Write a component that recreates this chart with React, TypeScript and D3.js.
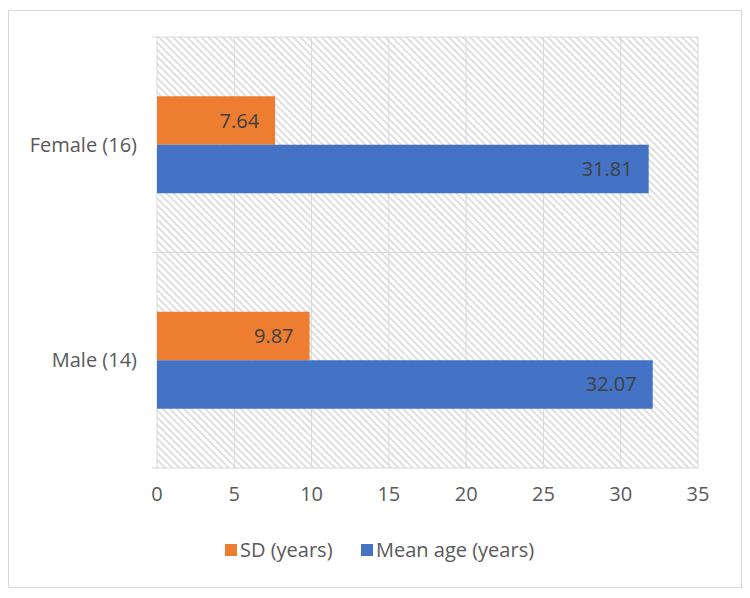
import { scaleLinear, scaleBand } from "d3"

const categories = ["Female (16)", "Male (14)"]
const seriesNames = ["SD (years)", "Mean age (years)"]
const sdValues = [7.64, 9.87]
const meanValues = [31.81, 32.07]
const xTicks = [0, 5, 10, 15, 20, 25, 30, 35]

const colors = ["#ED7D31", "#4472C4"]
const font = "'Open Sans', 'Segoe UI', sans-serif"

export default function App() {
  const width = 750
  const height = 598
  const left = 157
  const right = 698
  const top = 37
  const bottom = 468

  const x = scaleLinear().domain([0, 35]).range([left, right])
  const y = scaleBand<string>()
    .domain(categories)
    .range([top, bottom])
    .paddingInner(0.55)
    .paddingOuter(0.275)
  const sub = scaleBand<number>().domain([0, 1]).range([0, y.bandwidth()])

  const series = [sdValues, meanValues]
  const step = y.step()
  const separators = categories.map((_, i) => top + i * step).concat([bottom])

  // legend item positions (square x)
  const legendX = [225, 361]

  return (
    <svg
      width={width}
      height={height}
      style={{ position: "absolute", left: 0, top: 0, background: "#fff" }}
      fontFamily={font}
    >
      <defs>
        <pattern
          id="hatch"
          patternUnits="userSpaceOnUse"
          width={5}
          height={5}
          patternTransform="rotate(-45)"
        >
          <rect width={5} height={5} fill="#fff" />
          <line x1={1} y1={0} x2={1} y2={5} stroke="#dcdcdc" strokeWidth={1.8} />
        </pattern>
      </defs>
      <rect x={8.5} y={10.5} width={733} height={577} fill="#fff" stroke="#d9d9d9" />

      <rect x={left} y={top} width={right - left} height={bottom - top} fill="url(#hatch)" />

      {xTicks.slice(1).map((t) => (
        <line key={t} x1={x(t)} x2={x(t)} y1={top} y2={bottom} stroke="#d9d9d9" strokeWidth={1} />
      ))}
      {separators.map((s, i) => (
        <line key={i} x1={left - 5} x2={right} y1={s} y2={s} stroke="#d9d9d9" strokeWidth={1} />
      ))}
      <line x1={left} x2={left} y1={top} y2={bottom} stroke="#d9d9d9" strokeWidth={1} />

      {categories.map((c, ci) => (
        <g key={c}>
          {series.map((vals, si) => {
            const y0 = (y(c) as number) + (sub(si) as number)
            const bw = sub.bandwidth()
            const xe = x(vals[ci])
            return (
              <g key={si}>
                <rect x={x(0)} y={y0} width={xe - x(0)} height={bw} fill={colors[si]} />
                <text
                  x={xe - 16}
                  y={y0 + bw / 2}
                  dy="0.35em"
                  textAnchor="end"
                  fontSize={20}
                  fill="#404040"
                >
                  {vals[ci].toFixed(2)}
                </text>
              </g>
            )
          })}
          <text
            x={left - 20}
            y={(y(c) as number) + y.bandwidth() / 2}
            dy="0.35em"
            textAnchor="end"
            fontSize={20}
            fill="#595959"
          >
            {c}
          </text>
        </g>
      ))}

      {xTicks.map((t) => (
        <text key={t} x={x(t)} y={494} dy="0.35em" textAnchor="middle" fontSize={20} fill="#595959">
          {t}
        </text>
      ))}

      {seriesNames.map((n, i) => {
        const lx = legendX[i]
        return (
          <g key={n}>
            <rect x={lx} y={544} width={12} height={12} fill={colors[i]} />
            <text x={lx + 15} y={550} dy="0.35em" fontSize={20} fill="#595959">
              {n}
            </text>
          </g>
        )
      })}
    </svg>
  )
}
